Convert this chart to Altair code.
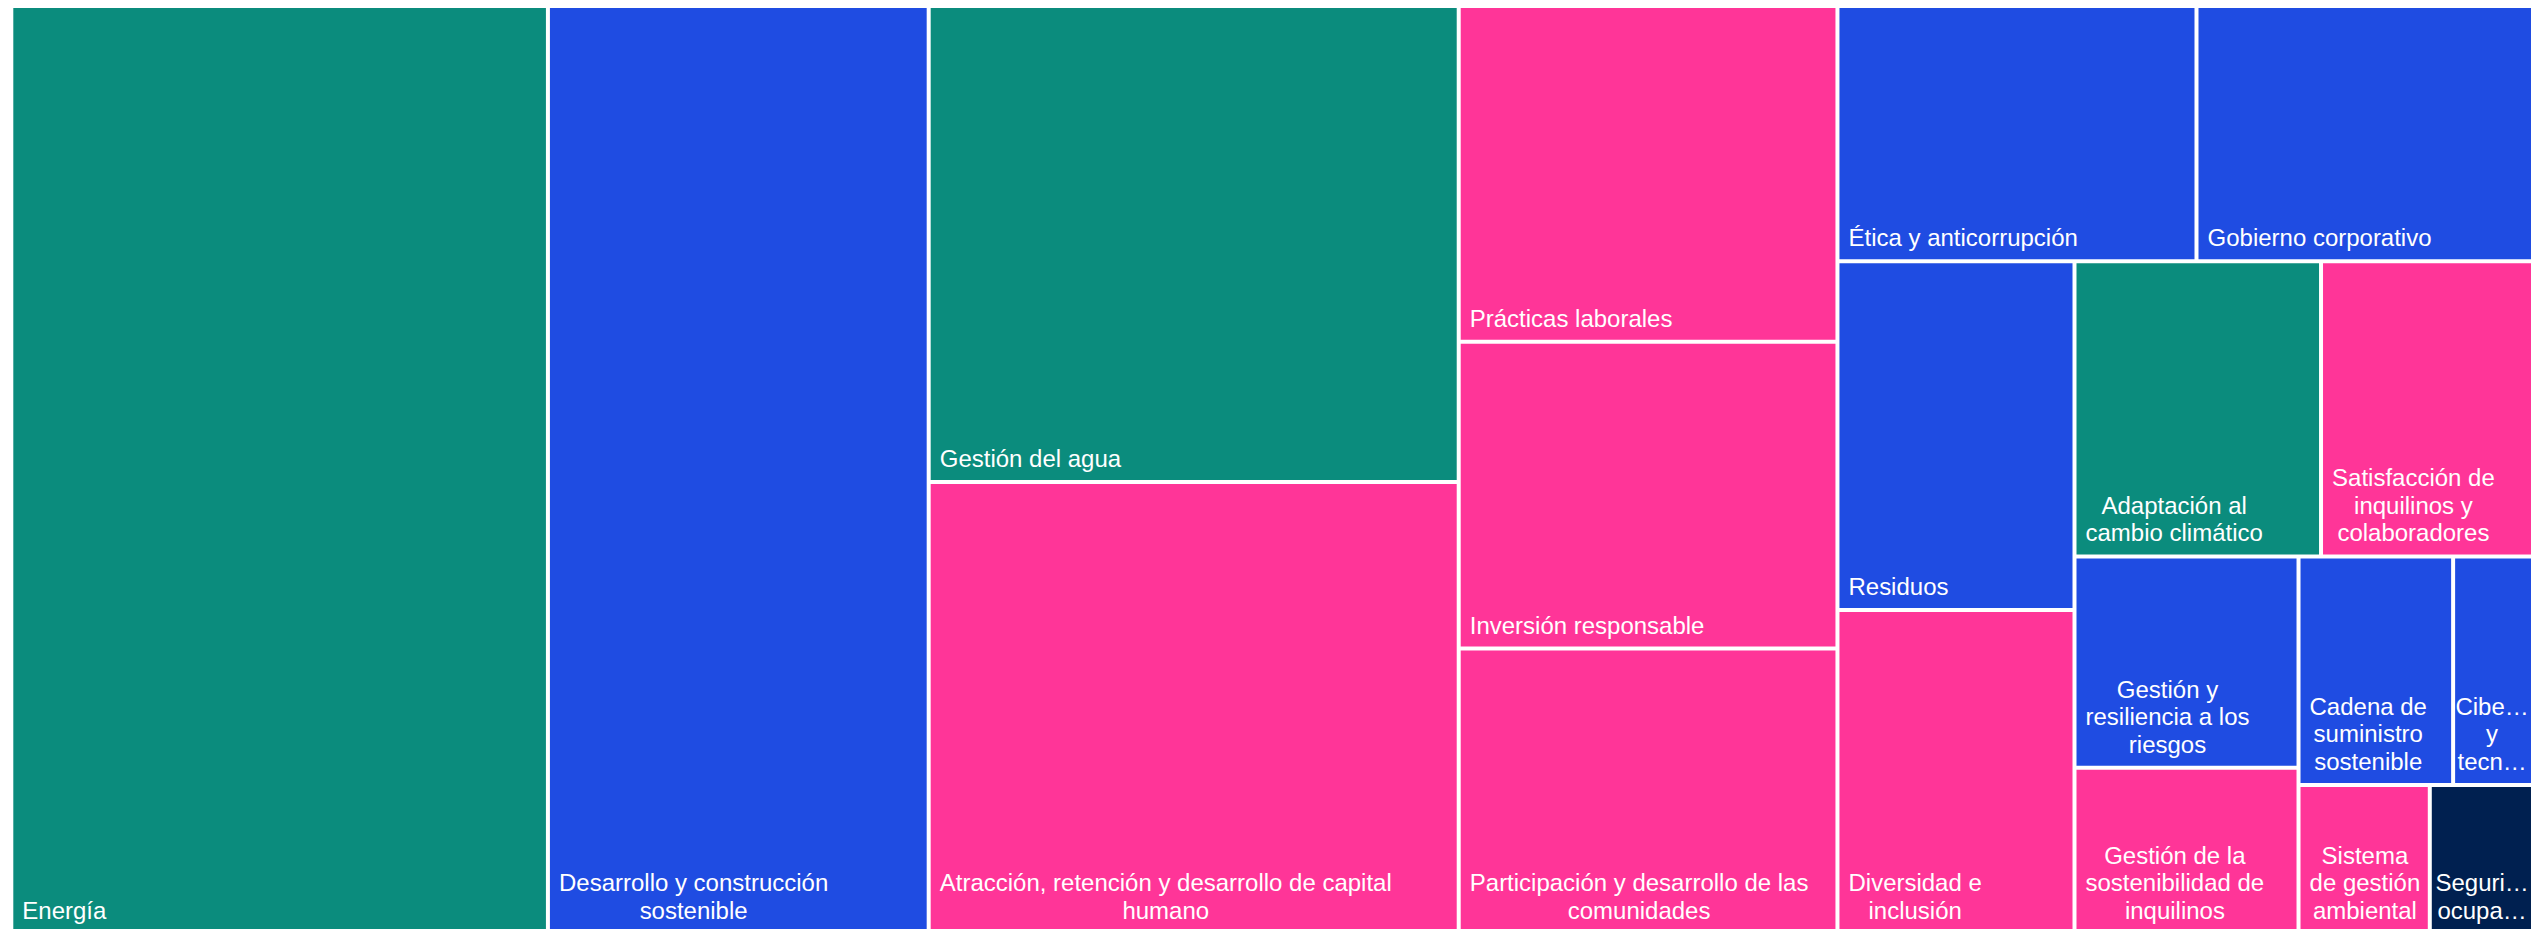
import altair as alt
import pandas as pd

# ---- data -------------------------------------------------------------
labels = [
    "Energía",
    "Desarrollo y construcción\nsostenible",
    "Gestión del agua",
    "Atracción, retención y desarrollo de capital\nhumano",
    "Prácticas laborales",
    "Inversión responsable",
    "Participación y desarrollo de las\ncomunidades",
    "Ética y anticorrupción",
    "Gobierno corporativo",
    "Residuos",
    "Diversidad e\ninclusión",
    "Adaptación al\ncambio climático",
    "Satisfacción de\ninquilinos y\ncolaboradores",
    "Gestión y\nresiliencia a los\nriesgos",
    "Gestión de la\nsostenibilidad de\ninquilinos",
    "Cadena de\nsuministro\nsostenible",
    "Cibe…\ny\ntecn…",
    "Sistema\nde gestión\nambiental",
    "Seguri…\nocupa…",
]
values = [21.14, 15.00, 10.71, 10.17, 5.40, 4.93, 4.59, 3.89, 3.83, 3.51,
          3.26, 3.09, 2.87, 2.01, 1.58, 1.50, 0.94, 0.83, 0.76]
groups = ["Ambiental", "Gobernanza", "Ambiental", "Social", "Social", "Social",
          "Social", "Gobernanza", "Gobernanza", "Gobernanza", "Social", "Ambiental",
          "Social", "Gobernanza", "Social", "Gobernanza", "Gobernanza", "Social",
          "Seguridad"]
group_names = ["Ambiental", "Gobernanza", "Social", "Seguridad"]
group_colors = ["#0B8C7D", "#1F4CE2", "#FF3598", "#002050"]

# tiling: number of cells per strip (strips laid along the shorter side)
strip_sizes = [1, 1, 2, 3, 2, 2, 2, 2, 2, 1, 1]

# ---- layout settings ----------------------------------------------------
TREE_W, TREE_H = 2534.7, 924.0     # full treemap extent (runs past the page edge)
VIEW_W, VIEW_H = 2517.5, 924.0     # drawn view (fits the page width)
GAP = 4.0
PAD_X, LINE_H, BOTTOM_OFF = 9.0, 27.6, 13.0
FONT_SIZE = 24

CHAR_W = {
    " ": 278, ",": 278, "…": 1000,
    "a": 556, "b": 556, "c": 500, "d": 556, "e": 556, "f": 278, "g": 556,
    "h": 556, "i": 222, "j": 222, "k": 500, "l": 222, "m": 833, "n": 556,
    "o": 556, "p": 556, "q": 556, "r": 333, "s": 500, "t": 278, "u": 556,
    "v": 500, "w": 722, "x": 500, "y": 500, "z": 500,
    "á": 556, "é": 556, "í": 278, "ó": 556, "ú": 556, "ñ": 556,
    "A": 667, "C": 722, "D": 722, "E": 667, "G": 778, "I": 278, "P": 667,
    "R": 722, "S": 667, "É": 667,
}


def text_width(s):
    return sum(CHAR_W.get(c, 556) for c in s) * FONT_SIZE / 1000.0


def tile(vals, sizes, x0, y0, x1, y1):
    out = []
    remaining = float(sum(vals))
    i = 0
    for n in sizes:
        chunk = vals[i:i + n]
        s = float(sum(chunk))
        dx, dy = x1 - x0, y1 - y0
        if dx >= dy:
            w = dx * s / remaining
            yy = y0
            for v in chunk:
                h = dy * v / s
                out.append((x0, yy, x0 + w, yy + h))
                yy += h
            x0 += w
        else:
            h = dy * s / remaining
            xx = x0
            for v in chunk:
                w = dx * v / s
                out.append((xx, y0, xx + w, y0 + h))
                xx += w
            y0 += h
        remaining -= s
        i += n
    return out


tiles = tile(values, strip_sizes, -GAP / 2, -GAP / 2, TREE_W + GAP / 2, TREE_H + GAP / 2)

cell_rows, text_rows = [], []
for lab, val, grp, (tx0, ty0, tx1, ty1) in zip(labels, values, groups, tiles):
    vx0, vy0, vx1, vy1 = tx0 + GAP / 2, ty0 + GAP / 2, tx1 - GAP / 2, ty1 - GAP / 2
    cell_rows.append({"tema": lab.replace("\n", " "), "valor": val, "grupo": grp,
                      "x0": vx0, "x1": vx1, "y0": vy0, "y1": vy1})
    lines = lab.split("\n")
    maxw = max(text_width(l) for l in lines)
    cx = vx0 + PAD_X + maxw / 2
    # keep the label block inside the drawn area
    cx = min(cx, VIEW_W - 2 - maxw / 2)
    n = len(lines)
    for k, line in enumerate(lines):
        text_rows.append({"line": line, "x": cx,
                          "y": vy1 - BOTTOM_OFF - (n - 1 - k) * LINE_H})

cells = pd.DataFrame(cell_rows)
texts = pd.DataFrame(text_rows)

x_scale = alt.Scale(domain=[0, VIEW_W], nice=False, zero=False)
y_scale = alt.Scale(domain=[0, VIEW_H], nice=False, zero=False, reverse=True)

rects = alt.Chart(cells).mark_rect(strokeWidth=0, clip=False).encode(
    x=alt.X("x0:Q", scale=x_scale, axis=None),
    x2="x1:Q",
    y=alt.Y("y0:Q", scale=y_scale, axis=None),
    y2="y1:Q",
    color=alt.Color("grupo:N", scale=alt.Scale(domain=group_names, range=group_colors), legend=None),
    tooltip=["tema:N", "valor:Q"],
)

text = alt.Chart(texts).mark_text(
    align="center", baseline="alphabetic", font="Liberation Sans",
    fontSize=FONT_SIZE, color="white", clip=False,
).encode(
    x=alt.X("x:Q", scale=x_scale, axis=None),
    y=alt.Y("y:Q", scale=y_scale, axis=None),
    text="line:N",
)

chart = (rects + text).properties(
    width=VIEW_W, height=VIEW_H,
    padding={"left": 5.3, "top": 0, "right": 0, "bottom": 0},
    autosize="none", background="white",
).configure_view(strokeWidth=0)

chart.save("out.html", embed_options={"renderer": "svg", "actions": False})
